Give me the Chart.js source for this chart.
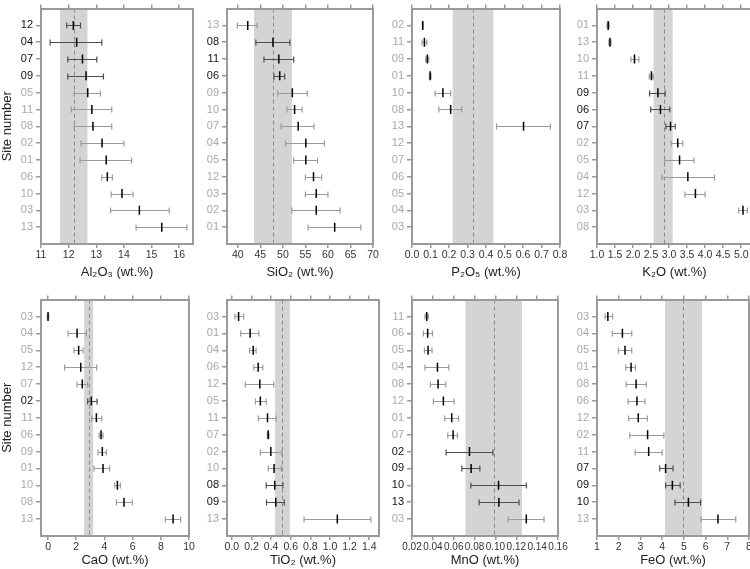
<!DOCTYPE html>
<html>
<head>
<meta charset="utf-8">
<script src="https://cdn.jsdelivr.net/npm/chart.js@4.4.0/dist/chart.umd.min.js"></script>
<style>
  body { margin: 0; background: #fff; overflow: hidden; }
  #wrap { position: relative; width: 750px; height: 569px; overflow: hidden; }
  #wrap canvas { position: absolute; }
</style>
</head>
<body>
<div id="wrap"></div>
<script>
// Al2O3
const al2o3Sites = ['12', '04', '07', '09', '05', '11', '08', '02', '01', '06', '10', '03', '13'];
const al2o3Mean = [12.17, 12.29, 12.50, 12.63, 12.69, 12.84, 12.88, 13.21, 13.36, 13.40, 13.93, 14.56, 15.37];
const al2o3Low = [11.93, 11.33, 11.97, 11.97, 12.20, 12.10, 12.20, 12.45, 12.41, 13.20, 13.54, 13.52, 14.44];
const al2o3High = [12.43, 13.20, 13.02, 13.26, 13.15, 13.56, 13.56, 14.00, 14.28, 13.58, 14.33, 15.64, 16.28];
const al2o3Dark = ['12', '04', '07', '09'];
const al2o3Band = [11.69, 12.68];
const al2o3Ref = 12.2;
const al2o3Ticks = ['11', '12', '13', '14', '15', '16'];

// SiO2
const sio2Sites = ['13', '08', '11', '06', '09', '10', '07', '04', '05', '12', '03', '02', '01'];
const sio2Mean = [42.2, 47.8, 49.1, 49.3, 52.1, 52.6, 53.4, 55.1, 55.1, 56.8, 57.4, 57.4, 61.5];
const sio2Low = [39.9, 44.0, 45.8, 48.0, 48.85, 50.9, 49.6, 50.6, 52.4, 55.0, 55.0, 52.0, 55.6];
const sio2High = [44.3, 51.55, 52.4, 50.4, 55.4, 54.25, 56.9, 59.2, 57.7, 58.6, 60.0, 62.7, 67.3];
const sio2Dark = ['08', '11', '06'];
const sio2Band = [43.6, 52.0];
const sio2Ref = 47.75;
const sio2Ticks = ['40', '45', '50', '55', '60', '65', '70'];

// P2O5
const p2o5Sites = ['02', '11', '09', '01', '10', '08', '13', '12', '07', '06', '05', '04', '03'];
const p2o5Mean = [0.058, 0.067, 0.083, 0.098, 0.167, 0.209, 0.603, null, null, null, null, null, null];
const p2o5Low = [0.056, 0.054, 0.074, 0.094, 0.125, 0.145, 0.457, null, null, null, null, null, null];
const p2o5High = [0.060, 0.080, 0.091, 0.103, 0.209, 0.269, 0.748, null, null, null, null, null, null];
const p2o5Dark = [];
const p2o5Band = [0.22, 0.44];
const p2o5Ref = 0.33;
const p2o5Ticks = ['0.0', '0.1', '0.2', '0.3', '0.4', '0.5', '0.6', '0.7', '0.8'];

// K2O
const k2oSites = ['01', '13', '10', '11', '09', '06', '07', '02', '05', '04', '12', '03', '08'];
const k2oMean = [1.31, 1.36, 2.04, 2.51, 2.69, 2.76, 3.04, 3.24, 3.29, 3.52, 3.73, 5.05, null];
const k2oLow = [1.28, 1.33, 1.94, 2.45, 2.46, 2.49, 2.91, 3.06, 2.88, 2.80, 3.44, 4.93, null];
const k2oHigh = [1.34, 1.39, 2.16, 2.56, 2.89, 3.02, 3.17, 3.38, 3.69, 4.26, 4.00, 5.17, null];
const k2oDark = ['09', '06', '07'];
const k2oBand = [2.57, 3.10];
const k2oRef = 2.85;
const k2oTicks = ['1.0', '1.5', '2.0', '2.5', '3.0', '3.5', '4.0', '4.5', '5.0'];

// CaO
const caoSites = ['03', '04', '05', '12', '07', '02', '11', '06', '09', '01', '10', '08', '13'];
const caoMean = [0.0, 2.06, 2.17, 2.32, 2.43, 3.07, 3.43, 3.76, 3.85, 3.90, 4.92, 5.39, 8.87];
const caoLow = [-0.05, 1.42, 1.84, 1.18, 2.06, 2.81, 3.10, 3.62, 3.55, 3.26, 4.73, 4.85, 8.32];
const caoHigh = [0.05, 2.72, 2.48, 3.45, 2.81, 3.48, 3.81, 3.90, 4.14, 4.37, 5.13, 5.98, 9.41];
const caoDark = ['02'];
const caoBand = [2.56, 3.2];
const caoRef = 2.9;
const caoTicks = ['0', '2', '4', '6', '8', '10'];

// TiO2
const tio2Sites = ['03', '01', '04', '06', '12', '05', '11', '07', '02', '10', '08', '09', '13'];
const tio2Mean = [0.068, 0.186, 0.217, 0.268, 0.285, 0.29, 0.363, 0.37, 0.397, 0.43, 0.437, 0.447, 1.075];
const tio2Low = [0.03, 0.09, 0.18, 0.224, 0.136, 0.24, 0.27, 0.362, 0.29, 0.37, 0.35, 0.353, 0.736];
const tio2High = [0.12, 0.275, 0.247, 0.315, 0.427, 0.35, 0.45, 0.378, 0.51, 0.505, 0.52, 0.535, 1.417];
const tio2Dark = ['08', '09'];
const tio2Band = [0.44, 0.59];
const tio2Ref = 0.51;
const tio2Ticks = ['0.0', '0.2', '0.4', '0.6', '0.8', '1.0', '1.2', '1.4'];

// MnO
const mnoSites = ['11', '06', '05', '04', '08', '12', '01', '07', '02', '09', '10', '13', '03'];
const mnoMean = [0.0341, 0.035, 0.0354, 0.0444, 0.045, 0.0501, 0.0581, 0.0594, 0.0751, 0.0767, 0.103, 0.1033, 0.1296];
const mnoLow = [0.0325, 0.0309, 0.0319, 0.0325, 0.0376, 0.0405, 0.0514, 0.0543, 0.0527, 0.0678, 0.0764, 0.0844, 0.1123];
const mnoHigh = [0.0358, 0.0396, 0.0392, 0.0553, 0.0524, 0.0604, 0.0646, 0.0636, 0.0976, 0.0851, 0.1296, 0.1226, 0.1466];
const mnoDark = ['02', '09', '10', '13'];
const mnoBand = [0.0713, 0.1254];
const mnoRef = 0.0985;
const mnoTicks = ['0.02', '0.04', '0.06', '0.08', '0.10', '0.12', '0.14', '0.16'];

// FeO
const feoSites = ['03', '04', '05', '01', '08', '06', '12', '02', '11', '07', '09', '10', '13'];
const feoMean = [1.50, 2.17, 2.29, 2.57, 2.80, 2.84, 2.90, 3.33, 3.38, 4.16, 4.47, 5.21, 6.57];
const feoLow = [1.37, 1.70, 1.98, 2.32, 2.34, 2.43, 2.46, 2.51, 2.76, 3.89, 4.16, 4.59, 5.79];
const feoHigh = [1.72, 2.60, 2.60, 2.77, 3.27, 3.21, 3.32, 4.08, 4.00, 4.50, 4.83, 5.77, 7.39];
const feoDark = ['07', '09', '10'];
const feoBand = [4.13, 5.84];
const feoRef = 4.98;
const feoTicks = ['1', '2', '3', '4', '5', '6', '7', '8'];

Chart.defaults.font.family = "'Liberation Sans', Arial, 'DejaVu Sans', sans-serif";

const AXIS = '#9a9a9a';
const Y_W = 41;   // left axis box width
const TOP_H = 4;  // top tick marks
const RIGHT_W = 12;

// panel layout: chart area [left, right, top, bottom] in page pixels, xh = bottom axis box height
const panels = [
    { title: 'Al₂O₃ (wt.%)', sites: al2o3Sites, mean: al2o3Mean, low: al2o3Low, high: al2o3High, dark: al2o3Dark, band: al2o3Band, ref: al2o3Ref, ticks: al2o3Ticks, min: 11, max: 16.5, box: [41, 193, 3, 244], xh: 40, siteTitle: true },
    { title: 'SiO₂ (wt.%)', sites: sio2Sites, mean: sio2Mean, low: sio2Low, high: sio2High, dark: sio2Dark, band: sio2Band, ref: sio2Ref, ticks: sio2Ticks, min: 37.6, max: 70, box: [227, 373, 3, 244], xh: 40 },
    { title: 'P₂O₅ (wt.%)', sites: p2o5Sites, mean: p2o5Mean, low: p2o5Low, high: p2o5High, dark: p2o5Dark, band: p2o5Band, ref: p2o5Ref, ticks: p2o5Ticks, min: 0, max: 0.8, box: [412, 560, 3, 244], xh: 40 },
    { title: 'K₂O (wt.%)', sites: k2oSites, mean: k2oMean, low: k2oLow, high: k2oHigh, dark: k2oDark, band: k2oBand, ref: k2oRef, ticks: k2oTicks, min: 1.0, max: 5.3, box: [597, 752, 3, 244], xh: 40 },
    { title: 'CaO (wt.%)', sites: caoSites, mean: caoMean, low: caoLow, high: caoHigh, dark: caoDark, band: caoBand, ref: caoRef, ticks: caoTicks, min: -0.5, max: 10, box: [41, 189, 294, 536], xh: 36, siteTitle: true },
    { title: 'TiO₂ (wt.%)', sites: tio2Sites, mean: tio2Mean, low: tio2Low, high: tio2High, dark: tio2Dark, band: tio2Band, ref: tio2Ref, ticks: tio2Ticks, min: -0.05, max: 1.5, box: [227, 379, 294, 536], xh: 36 },
    { title: 'MnO (wt.%)', sites: mnoSites, mean: mnoMean, low: mnoLow, high: mnoHigh, dark: mnoDark, band: mnoBand, ref: mnoRef, ticks: mnoTicks, min: 0.02, max: 0.16, box: [412, 558, 294, 536], xh: 36, tickSize: 10 },
    { title: 'FeO (wt.%)', sites: feoSites, mean: feoMean, low: feoLow, high: feoHigh, dark: feoDark, band: feoBand, ref: feoRef, ticks: feoTicks, min: 1, max: 8, box: [597, 749, 294, 536], xh: 36 }
];

// grey band + dashed reference line, and the error whiskers
function errorBarPlugin(p) {
    return {
        id: 'errorBars',
        beforeDraw(chart) {
            const { ctx, chartArea: a, scales: { x } } = chart;
            const b0 = x.getPixelForValue(p.band[0]);
            const b1 = x.getPixelForValue(p.band[1]);
            ctx.save();
            ctx.fillStyle = '#d4d4d4';
            ctx.fillRect(b0, a.top, b1 - b0, a.bottom - a.top);
            const rx = Math.round(x.getPixelForValue(p.ref)) + 0.5;
            ctx.strokeStyle = '#8a8a8a';
            ctx.lineWidth = 1;
            ctx.setLineDash([4, 3]);
            ctx.beginPath();
            ctx.moveTo(rx, a.top);
            ctx.lineTo(rx, a.bottom);
            ctx.stroke();
            ctx.restore();
        },
        beforeDatasetsDraw(chart) {
            const { ctx, scales: { x, y } } = chart;
            ctx.save();
            ctx.lineWidth = 1.2;
            p.low.forEach((lo, i) => {
                if (lo === null) return;
                const py = Math.round(y.getPixelForValue(i)) + 0.5;
                const x0 = x.getPixelForValue(lo);
                const x1 = x.getPixelForValue(p.high[i]);
                ctx.strokeStyle = p.dark.includes(p.sites[i]) ? '#4d4d4d' : '#9a9a9a';
                ctx.beginPath();
                ctx.moveTo(x0, py); ctx.lineTo(x1, py);
                ctx.moveTo(x0, py - 3); ctx.lineTo(x0, py + 3);
                ctx.moveTo(x1, py - 3); ctx.lineTo(x1, py + 3);
                ctx.stroke();
            });
            ctx.restore();
        }
    };
}

function createPanel(p) {
    const [L, R, T, B] = p.box;
    const w = R - L + Y_W + RIGHT_W;
    const h = B - T + TOP_H + p.xh;
    const canvas = document.createElement('canvas');
    canvas.width = w;
    canvas.height = h;
    canvas.style.left = (L - Y_W) + 'px';
    canvas.style.top = (T - TOP_H) + 'px';
    canvas.style.width = w + 'px';
    canvas.style.height = h + 'px';
    document.getElementById('wrap').appendChild(canvas);

    const tickValues = p.ticks.map(Number);
    const points = [];
    p.mean.forEach((m, i) => { if (m !== null) points.push({ x: m, y: i }); });

    new Chart(canvas, {
        type: 'scatter',
        data: {
            datasets: [{
                data: points,
                pointStyle: 'line',
                rotation: 90,
                radius: 4.5,
                hoverRadius: 4.5,
                borderColor: '#000',
                borderWidth: 1.5
            }]
        },
        options: {
            responsive: false,
            animation: false,
            events: [],
            layout: { padding: 0 },
            plugins: { legend: { display: false }, tooltip: { enabled: false } },
            scales: {
                x: {
                    type: 'linear', position: 'bottom', min: p.min, max: p.max,
                    afterBuildTicks: s => { s.ticks = tickValues.map(v => ({ value: v })); },
                    afterFit: s => { s.height = p.xh; },
                    ticks: {
                        autoSkip: false, maxRotation: 0, minRotation: 0, padding: 1,
                        color: '#333', font: { size: p.tickSize || 10.5 },
                        callback: (v, i) => p.ticks[i]
                    },
                    grid: { drawOnChartArea: false, tickLength: 4, color: AXIS, lineWidth: 1.5 },
                    border: { color: AXIS, width: 2 },
                    title: { display: true, text: p.title, color: '#222', font: { size: 13 }, padding: { top: 0, bottom: 4 } }
                },
                x2: {
                    type: 'linear', position: 'top', min: p.min, max: p.max,
                    afterBuildTicks: s => { s.ticks = tickValues.map(v => ({ value: v })); },
                    afterFit: s => { s.height = TOP_H; },
                    ticks: { display: false },
                    grid: { drawOnChartArea: false, tickLength: 4, color: AXIS, lineWidth: 1.5 },
                    border: { color: AXIS, width: 2 }
                },
                y: {
                    type: 'linear', position: 'left', min: -1, max: 13, reverse: true,
                    afterBuildTicks: s => { s.ticks = p.sites.map((_, i) => ({ value: i })); },
                    afterFit: s => { s.width = Y_W; },
                    ticks: {
                        autoSkip: false, padding: 3, font: { size: 11 },
                        color: c => p.dark.includes(p.sites[c.index]) ? '#111' : '#a8a8a8',
                        callback: v => p.sites[v]
                    },
                    grid: { drawOnChartArea: false, tickLength: 5, color: AXIS, lineWidth: 1.5 },
                    border: { color: AXIS, width: 2 },
                    title: { display: !!p.siteTitle, text: 'Site number', color: '#222', font: { size: 13 }, padding: 0 }
                },
                yR: {
                    type: 'linear', position: 'right', min: -1, max: 13,
                    afterFit: s => { s.width = RIGHT_W; },
                    ticks: { display: false },
                    grid: { display: false },
                    border: { color: AXIS, width: 2 }
                }
            }
        },
        plugins: [errorBarPlugin(p)]
    });
}

panels.forEach(createPanel);
</script>
</body>
</html>
